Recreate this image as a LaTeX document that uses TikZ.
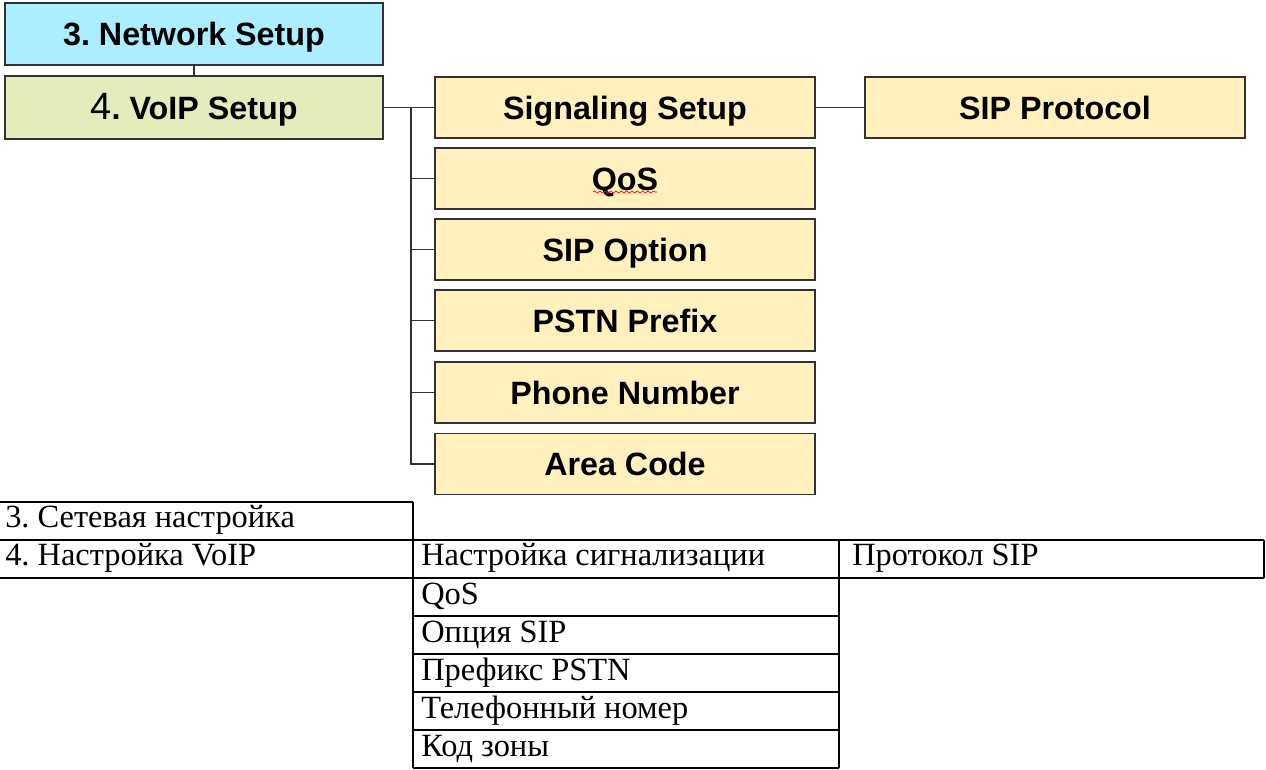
\documentclass[tikz,border=0pt]{standalone}
\usepackage{fontspec}
\setmainfont{Liberation Serif}
\newfontfamily\arialfont{Liberation Sans}
\usetikzlibrary{decorations.pathmorphing}
\frenchspacing
\definecolor{netfill}{RGB}{170,238,255}
\definecolor{voipfill}{RGB}{226,237,187}
\definecolor{subfill}{RGB}{255,240,190}
\definecolor{boxline}{RGB}{50,50,50}
\tikzset{
  box/.style={draw=boxline, line width=1pt, inner sep=0pt,
    font=\arialfont\bfseries\fontsize{24.2}{29}\selectfont,
    text height=17.4pt, text depth=0pt},
  mainbox/.style={box, minimum width=283.5pt},
  subbox/.style={box, fill=subfill, minimum width=285pt, minimum height=45.75pt},
  conn/.style={draw=boxline, line width=1.2pt},
  tline/.style={draw=black, line width=1.5pt},
  ttext/.style={anchor=base west, inner sep=0pt, font=\fontsize{24.3}{29}\selectfont}
}
\begin{document}
\begin{tikzpicture}[x=0.75pt,y=-0.75pt]
\useasboundingbox (0,0) rectangle (1266,769);
% top diagram
\node[mainbox, fill=netfill, minimum height=46.5pt] (net) at (194,34) {3. Network Setup};
\node[mainbox, fill=voipfill, minimum height=47.25pt] (voip) at (194,107.5) {{\mdseries\fontsize{28.5}{30}\selectfont 4}. VoIP Setup};
\node[subbox] (sig) at (625,107.5) {Signaling Setup};
\node[subbox] (qos) at (625,178.5) {QoS};
\node[subbox] (sipopt) at (625,249.5) {SIP Option};
\node[subbox] (pstn) at (625,320.5) {PSTN Prefix};
\node[subbox] (phone) at (625,392.5) {Phone Number};
\node[subbox] (area) at (625,464) {Area Code};
\node[subbox] (sipp) at (1055,107.5) {SIP Protocol};
\coordinate (bustop) at (411,107.5);
\coordinate (busbot) at (411,464);
\draw[conn] (net.south) -- (voip.north);
\draw[conn] (voip.east) -- (sig.west);
\draw[conn] (bustop) -- (busbot) -- (area.west);
\foreach \n in {qos,sipopt,pstn,phone}{\draw[conn] (bustop |- \n.west) -- (\n.west);}
\draw[conn] (sig.east) -- (sipp.west);
% spell-check underline under QoS
\draw[red, line width=0.5pt, decorate, decoration={snake, segment length=4pt, amplitude=0.8pt}] (593,192) -- (657,192);
% table
\draw[tline] (-5,502) -- (413,502);
\draw[tline] (-5,540) -- (1264,540);
\draw[tline] (-5,578) -- (1264,578);
\draw[tline] (413,502) -- (413,768);
\draw[tline] (839,540) -- (839,768);
\draw[tline] (1264,540) -- (1264,578);
\foreach \yy in {616,654,692,730,768}{\draw[tline] (413,\yy) -- (839,\yy);}
\node[ttext] (t1) at (5,527) {3. Сетевая настройка};
\node[ttext] (t2) at (5,565) {4. Настройка VoIP};
\node[ttext] (t3) at (421,565) {Настройка сигнализации};
\node[ttext] (t4) at (852,565) {Протокол SIP};
\node[ttext] (t5) at (421,604) {QoS};
\node[ttext] (t6) at (421,642) {Опция SIP};
\node[ttext] (t7) at (421,680) {Префикс PSTN};
\node[ttext] (t8) at (421,718) {Телефонный номер};
\node[ttext] (t9) at (421,756) {Код зоны};
\end{tikzpicture}
\end{document}
